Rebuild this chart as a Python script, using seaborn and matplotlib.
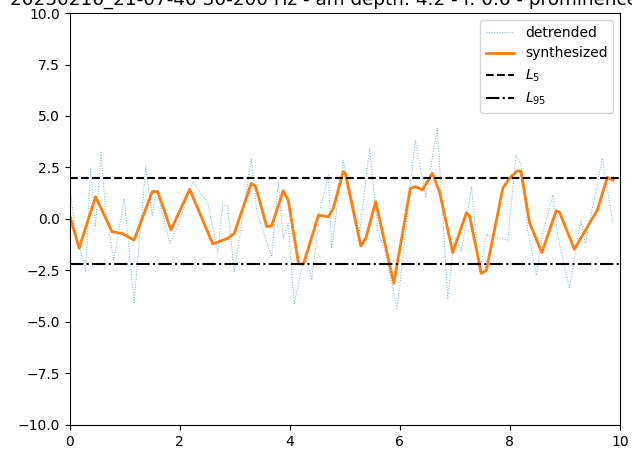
import matplotlib
matplotlib.use("Agg")
import matplotlib.pyplot as plt
import seaborn as sns
import pandas as pd

# Detrended recording (time in s, amplitude)
detrended_t = [0.00, 0.10, 0.29, 0.38, 0.47, 0.57, 0.65, 0.80, 0.99, 1.17,
               1.38, 1.50, 1.58, 1.82, 1.93, 2.24, 2.51, 2.69, 2.78, 2.87,
               2.99, 3.30, 3.40, 3.67, 3.79, 3.88, 3.97, 4.08, 4.28, 4.40,
               4.55, 4.70, 4.76, 4.97, 5.09, 5.27, 5.45, 5.60, 5.72, 5.95,
               6.09, 6.28, 6.47, 6.68, 6.87, 6.99, 7.12, 7.30, 7.45, 7.57,
               7.74, 7.96, 8.11, 8.21, 8.32, 8.48, 8.60, 8.78, 8.87, 9.08,
               9.29, 9.37, 9.68, 9.87]
detrended_v = [1.57, -0.50, -2.56, 2.46, -0.37, 3.27, 0.44, -2.00, 1.00, -4.06,
               2.54, 0.19, 1.40, -1.18, -0.60, 1.81, 0.76, -1.59, 0.68, 0.63,
               -2.56, 2.95, 0.36, -1.83, 1.81, -0.94, -0.21, -4.10, -1.67, -2.96,
               0.44, 2.14, -1.42, 2.86, 1.50, -0.60, 3.43, -0.53, -1.50, -4.34,
               -1.00, 3.83, 1.08, 4.40, -3.85, -0.86, -1.59, 1.57, -2.60, -0.78,
               -0.90, -1.02, 3.10, 2.60, -0.50, -2.72, -0.62, 1.17, -0.85, -3.37,
               -0.05, -1.20, 2.95, -0.21]

# Synthesized signal
synth_t = [0.00, 0.17, 0.47, 0.77, 0.95, 1.17, 1.50, 1.60, 1.84, 2.18,
           2.60, 2.87, 2.99, 3.30, 3.38, 3.58, 3.67, 3.88, 3.97, 4.16,
           4.25, 4.52, 4.70, 4.79, 4.97, 5.01, 5.29, 5.38, 5.56, 5.89,
           6.19, 6.28, 6.41, 6.59, 6.72, 6.96, 7.21, 7.27, 7.48, 7.57,
           7.87, 7.99, 8.14, 8.20, 8.36, 8.58, 8.84, 8.90, 9.17, 9.41,
           9.59, 9.77, 9.87]
synth_v = [0.19, -1.42, 1.08, -0.62, -0.70, -1.02, 1.33, 1.33, -0.53, 1.44,
           -1.21, -0.94, -0.70, 1.73, 1.57, -0.37, -0.33, 1.37, 0.92, -2.18,
           -2.18, 0.19, 0.11, 0.52, 2.30, 2.20, -1.31, -0.94, 0.84, -3.12,
           1.49, 1.57, 1.41, 2.22, 1.33, -1.63, 0.31, 0.11, -2.64, -2.50,
           1.49, 1.98, 2.35, 2.30, -0.21, -1.63, 0.40, 0.34, -1.47, -0.37,
           0.44, 2.02, 1.89]

# Percentile levels
L5 = 1.98
L95 = -2.18

title = "20230216_21-07-40 30-200 Hz - am depth: 4.2 - f: 0.6 - prominence: 0.5"

det_df = pd.DataFrame({"t": detrended_t, "v": detrended_v})
syn_df = pd.DataFrame({"t": synth_t, "v": synth_v})

fig = plt.figure(figsize=(6.32, 4.5), dpi=100)
ax = fig.add_axes([0.1103, 0.0556, 0.8707, 0.9155])

sns.lineplot(data=det_df, x="t", y="v", ax=ax, sort=False, estimator=None,
             color="tab:blue", linestyle=":", linewidth=0.7, alpha=0.6,
             label="detrended")
sns.lineplot(data=syn_df, x="t", y="v", ax=ax, sort=False, estimator=None,
             color="tab:orange", linewidth=2, label="synthesized")
ax.axhline(L5, color="black", linestyle="--", linewidth=1.5, label="$L_5$")
ax.axhline(L95, color="black", linestyle="-.", linewidth=1.5, label="$L_{95}$")

ax.set_xlim(0, 10)
ax.set_ylim(-10, 10)
ax.set_xticks([0, 2, 4, 6, 8, 10])
ax.set_yticks([-10, -7.5, -5, -2.5, 0, 2.5, 5, 7.5, 10])
ax.set_xlabel("")
ax.set_ylabel("")
ax.set_title(title, fontsize=13.2)
ax.legend(loc="upper right")

fig.savefig("out.png", dpi=100)
